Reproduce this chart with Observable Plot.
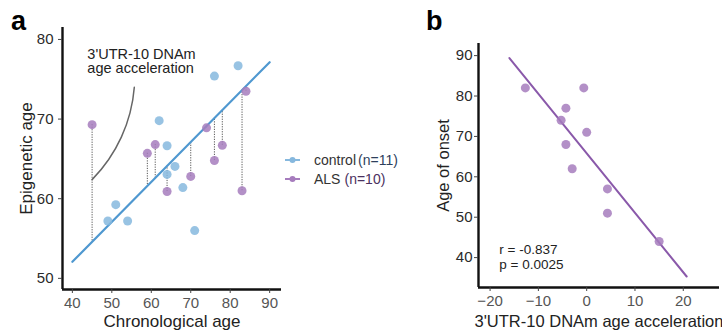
<!DOCTYPE html>
<html><head><meta charset="utf-8">
<script src="https://cdn.jsdelivr.net/npm/d3@7"></script>
<script src="https://cdn.jsdelivr.net/npm/@observablehq/plot@0.6"></script>
<style>
body{margin:0;background:#fff;font-family:"Liberation Sans",Arial,sans-serif;}
#wrap{position:relative;width:722px;height:331px;overflow:hidden;background:#fff;}
.abs{position:absolute;}
.tag{font-weight:bold;font-size:27px;color:#000;line-height:1;}
.leg{font-size:14px;color:#333;line-height:18.5px;white-space:nowrap;}
.leg div{display:flex;align-items:center;height:18.5px;}
.leg svg{margin-right:13px;}
</style></head><body>
<div id="wrap">
  <div class="abs tag" style="left:11px;top:8px;">a</div>
  <div class="abs tag" style="left:426px;top:8px;">b</div>
  <div class="abs leg" style="left:284px;top:151px;">
    <div><svg width="17" height="10"><line x1="1" y1="5" x2="16" y2="5" stroke="#86b8de" stroke-width="2"/><circle cx="8.5" cy="5" r="3" fill="#86b8de"/></svg><span>control</span><span style="margin-left:2px;color:#2e3f5c">(n=11)</span></div>
    <div><svg width="17" height="10"><line x1="1" y1="5" x2="16" y2="5" stroke="#a67cbd" stroke-width="2"/><circle cx="8.5" cy="5" r="3" fill="#a67cbd"/></svg><span>ALS</span><span style="margin-left:4px;color:#4a3160">(n=10)</span></div>
  </div>
</div>
<script>
// ---- Panel a data ----
const controlAge = [49, 51, 54, 62, 64, 64, 66, 68, 71, 76, 82];
const controlEpi = [57.2, 59.25, 57.2, 69.8, 66.65, 63.05, 64.06, 61.4, 56.0, 75.4, 76.7];
const alsAge = [45, 59, 61, 64, 70, 74, 76, 78, 83, 84];
const alsEpi = [69.3, 65.7, 66.8, 60.9, 62.8, 68.9, 64.8, 66.7, 61.0, 73.5];
const xTicksA = [40, 50, 60, 70, 80, 90];
const yTicksA = [50, 60, 70, 80];
const fitRangeA = [40, 90];
const annotTextA = "3'UTR-10 DNAm\nage acceleration";
const annotTextPosA = [{x: 43.8, y: 78.9}];
const annotCurveA = [{x1: 45, y1: 62.4, x2: 55.7, y2: 74.0}];

// ---- Panel b data ----
const accel = [-12.7, -5.3, -4.3, -4.3, -3.0, -0.6, 0.0, 4.3, 4.3, 15.0];
const onset = [82, 74, 77, 68, 62, 82, 71, 57, 51, 44];
const xTicksB = [-20, -10, 0, 10, 20];
const yTicksB = [40, 50, 60, 70, 80, 90];
const fitRangeB = [-16, 20.7];
const statText = "r = -0.837\np = 0.0025";
const statPos = [{x: -18.1, y: 40.3}];

const blueFill = "#86b8de", blueLine = "#4f98d0";
const purpleFill = "#a67cbd", purpleLine = "#8a59aa";
const font = "'Liberation Sans', Arial, sans-serif";

function fit(xs, ys) {
  const mx = d3.mean(xs), my = d3.mean(ys);
  let sxy = 0, sxx = 0;
  xs.forEach((x, i) => { sxy += (x - mx) * (ys[i] - my); sxx += (x - mx) ** 2; });
  const b = sxy / sxx;
  return x => my + b * (x - mx);
}

const controlRows = controlAge.map((a, i) => ({age: a, epi: controlEpi[i]}));
const alsRows = alsAge.map((a, i) => ({age: a, epi: alsEpi[i]}));
const fA = fit(controlAge, controlEpi);
const lineA = fitRangeA.map(x => ({x, y: fA(x)}));

const xDomA = [37.5, 93], yDomA = [48.6, 81.5];
const plotA = Plot.plot({
  width: 290, height: 331,
  marginLeft: 62, marginRight: 9, marginTop: 27, marginBottom: 42,
  style: {fontFamily: font, background: "transparent", overflow: "visible"},
  x: {domain: xDomA},
  y: {domain: yDomA},
  marks: [
    Plot.ruleX(alsRows, {x: "age", y1: "epi", y2: d => fA(d.age), stroke: "#555", strokeWidth: 1, strokeDasharray: "1.2,1.3"}),
    Plot.arrow(annotCurveA, {x1: "x1", y1: "y1", x2: "x2", y2: "y2", bend: -20, headLength: 0, stroke: "#666", strokeWidth: 1.5}),
    Plot.text(annotTextPosA, {x: "x", y: "y", text: () => annotTextA, textAnchor: "start", lineAnchor: "top", fontSize: 14.5, fill: "#222", lineHeight: 1}),
    Plot.line(lineA, {x: "x", y: "y", stroke: blueLine, strokeWidth: 2.2}),
    Plot.dot(controlRows, {x: "age", y: "epi", r: 4.5, fill: blueFill, fillOpacity: 0.85}),
    Plot.dot(alsRows, {x: "age", y: "epi", r: 4.5, fill: purpleFill, fillOpacity: 0.85}),
    Plot.ruleX([xDomA[0]], {stroke: "#111", strokeWidth: 2.4}),
    Plot.ruleY([yDomA[0]], {stroke: "#111", strokeWidth: 2.4}),
    Plot.axisX(xTicksA, {tickSize: 4, tickPadding: 4, fontSize: 15, fill: "#555", stroke: "#444", label: null}),
    Plot.axisY(yTicksA, {tickSize: 4, tickPadding: 5, fontSize: 15, fill: "#2a2a2a", stroke: "#444", label: null}),
    Plot.text(["Chronological age"], {frameAnchor: "bottom", lineAnchor: "bottom", dy: 37, fontSize: 17, fill: "#222"}),
    Plot.text(["Epigenetic age"], {frameAnchor: "left", textAnchor: "middle", rotate: -90, dx: -36, fontSize: 17, fill: "#222"})
  ]
});
plotA.style.position = "absolute"; plotA.style.left = "0px"; plotA.style.top = "0px";
document.getElementById("wrap").appendChild(plotA);

const bRows = accel.map((a, i) => ({acc: a, onset: onset[i]}));
const fB = fit(accel, onset);
const lineB = fitRangeB.map(x => ({x, y: fB(x)}));
const xDomB = [-22.4, 27.5], yDomB = [32.6, 93];
const plotB = Plot.plot({
  width: 292, height: 331,
  marginLeft: 48, marginRight: 3, marginTop: 43, marginBottom: 44,
  style: {fontFamily: font, background: "transparent", overflow: "visible"},
  x: {domain: xDomB},
  y: {domain: yDomB},
  marks: [
    Plot.line(lineB, {x: "x", y: "y", stroke: purpleLine, strokeWidth: 2}),
    Plot.dot(bRows, {x: "acc", y: "onset", r: 4.5, fill: purpleFill, fillOpacity: 0.85}),
    Plot.text(statPos, {x: "x", y: "y", text: () => statText, textAnchor: "start", lineAnchor: "middle", fontSize: 13.5, fill: "#222", lineHeight: 1.1}),
    Plot.ruleX([xDomB[0]], {stroke: "#111", strokeWidth: 2.4}),
    Plot.ruleY([yDomB[0]], {stroke: "#111", strokeWidth: 2.4}),
    Plot.axisX(xTicksB, {tickSize: 4, tickPadding: 4, fontSize: 15, fill: "#555", stroke: "#444", label: null}),
    Plot.axisY(yTicksB, {tickSize: 4, tickPadding: 2, fontSize: 15, fill: "#2a2a2a", stroke: "#444", label: null}),
    Plot.text(["3'UTR-10 DNAm age acceleration"], {frameAnchor: "bottom", lineAnchor: "bottom", dy: 39, fontSize: 16.5, fill: "#222"}),
    Plot.text(["Age of onset"], {frameAnchor: "left", textAnchor: "middle", rotate: -90, dx: -35, fontSize: 16.5, fill: "#222"})
  ]
});
plotB.style.position = "absolute"; plotB.style.left = "430px"; plotB.style.top = "0px";
document.getElementById("wrap").appendChild(plotB);
</script>
</body></html>
